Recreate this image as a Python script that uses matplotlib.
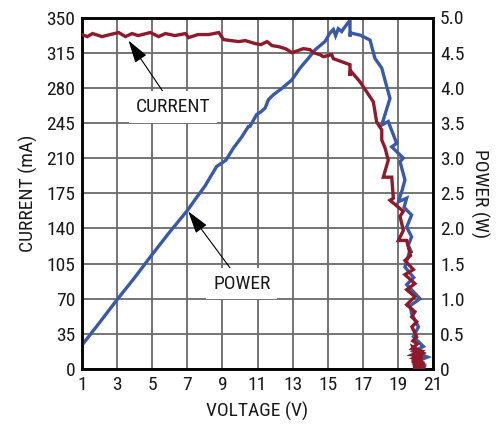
import matplotlib
matplotlib.use("Agg")
import matplotlib.pyplot as plt
from matplotlib import font_manager as fm

# ---------------- data ----------------
current_v = [1.0, 1.3, 1.6, 2.14, 2.6, 3.09, 3.47, 3.85, 4.2, 4.89, 5.37, 5.75, 6.3, 6.89,
             7.08, 7.6, 8.22, 8.79, 9.07, 9.5, 9.93, 10.3, 10.88, 11.2, 11.54, 11.83, 12.2,
             12.59, 12.97, 13.3, 13.61, 13.99, 14.18, 14.56, 14.75, 15.23, 15.32, 15.8,
             16.27, 16.27, 16.3, 16.84, 17.6, 17.79, 18.08, 18.08, 18.27, 18.45, 18.17,
             18.65, 18.74, 18.55, 19.31, 19.12, 19.31, 19.03, 19.5, 19.72, 19.4, 19.88,
             19.4, 19.97, 19.5, 19.97, 19.5, 19.97, 19.78, 20.07, 19.8, 20.07, 19.85, 20.1,
             19.8, 20.3, 19.8, 20.4, 19.8, 20.5, 19.85, 20.4, 19.9, 20.5, 19.9, 20.3,
             19.85, 20.45, 19.9, 20.4, 19.85, 20.5, 19.9, 20.4, 19.95, 20.5, 19.9, 20.3]
current_ma = [333, 331, 334, 331, 333, 335, 331, 334, 332, 335, 331, 334, 332, 334,
              330, 333, 333, 335, 328, 327, 326, 327, 324, 323, 326, 322, 321,
              319, 315, 317, 319, 318, 315, 313, 311, 313, 309, 306,
              303, 292, 297, 286, 266, 246, 238, 228, 220, 208, 191,
              191, 170, 168, 157, 152, 138, 128, 128, 113, 108, 99,
              94, 85, 79, 72, 64, 57, 52, 47, 42, 32, 28, 25,
              20, 18, 14, 12, 8, 6, 4, 3, 2, 1, 0.5, 0,
              22, 16, 11, 9, 6, 5, 3, 2, 1, 1, 0.5, 0]

power_v = [1.0, 2.0, 2.98, 4.0, 4.97, 6.0, 7.02, 7.5, 8.0, 8.67, 8.96, 9.2, 9.62, 10.1,
           10.48, 10.57, 10.95, 11.2, 11.43, 11.62, 11.9, 12.38, 12.95, 13.42, 13.9,
           14.28, 14.85, 15.13, 15.32, 15.45, 15.6, 15.8, 15.9, 16.27, 16.27, 16.3,
           16.84, 17.41, 17.69, 18.08, 18.36, 18.55, 18.08, 18.45, 18.93, 18.65, 19.31,
           19.12, 19.4, 19.25, 19.03, 19.5, 19.35, 19.78, 19.5, 19.78, 19.59, 19.78,
           19.69, 19.4, 19.9, 19.5, 20.26, 19.7, 19.78, 20.17, 19.88, 20.45, 19.9,
           20.69, 20.0, 20.6, 20.1, 20.5]
power_w = [0.34, 0.66, 0.98, 1.30, 1.62, 1.95, 2.26, 2.43, 2.6, 2.88, 2.93, 2.97, 3.14, 3.3,
           3.45, 3.45, 3.62, 3.66, 3.71, 3.83, 3.90, 3.99, 4.11, 4.28, 4.42,
           4.54, 4.66, 4.78, 4.83, 4.74, 4.84, 4.80, 4.84, 4.96, 4.73, 4.78,
           4.75, 4.68, 4.42, 4.28, 4.02, 3.85, 3.47, 3.52, 3.21, 3.16, 3.00,
           2.95, 2.69, 2.55, 2.38, 2.43, 2.30, 2.19, 2.02, 1.88, 1.76, 1.65,
           1.69, 1.45, 1.30, 1.20, 1.00, 0.90, 0.79, 0.60, 0.46, 0.32, 0.25,
           0.17, 0.10, 0.05, 0.02, 0.0]

x_ticks = [1, 3, 5, 7, 9, 11, 13, 15, 17, 19, 21]
current_ticks = [0, 35, 70, 105, 140, 175, 210, 245, 280, 315, 350]
power_ticks = [0, 0.5, 1.0, 1.5, 2.0, 2.5, 3.0, 3.5, 4.0, 4.5, 5.0]
power_labels = ["0", "0.5", "1.0", "1.5", "2.0", "2.5", "3.0", "3.5", "4.0", "4.5", "5.0"]

# ---------------- font ----------------
names = {f.name for f in fm.fontManager.ttflist}
family = "Liberation Sans"
for cand in ["Liberation Sans Narrow", "Roboto Condensed", "Arial Narrow", "Liberation Sans"]:
    if cand in names:
        family = cand
        break
plt.rcParams["font.family"] = [family, "DejaVu Sans"]

RED = "#8e1a2c"
BLUE = "#3a5aa8"
GRID = "#6a6a6a"
FS = 14

fig = plt.figure(figsize=(4.98, 4.25), dpi=100)
ax2 = fig.add_axes([82 / 498, 1 - 369 / 425, 351 / 498, 351.5 / 425])
ax = ax2.twinx()
# ax2 (power, right axis) at bottom with grid; ax (current) on top
ax.set_zorder(ax2.get_zorder() + 1)
ax.patch.set_visible(False)

ax2.set_xlim(1, 21)
ax2.set_ylim(0, 5)
ax.set_ylim(0, 350)

ax2.plot(power_v, power_w, color=BLUE, lw=2.4, solid_joinstyle="miter", zorder=3)
ax.plot(current_v, current_ma, color=RED, lw=2.4, solid_joinstyle="miter", zorder=3)

ax2.set_xticks(x_ticks)
ax2.set_yticks(power_ticks)
ax2.grid(True, color=GRID, lw=1.3, zorder=0)
ax2.set_axisbelow(True)

ax.yaxis.tick_left()
ax.yaxis.set_label_position("left")
ax2.yaxis.tick_right()
ax2.yaxis.set_label_position("right")

ax.set_yticks(current_ticks)
ax.set_yticklabels([str(t) for t in current_ticks], fontsize=FS)
ax2.set_yticklabels(power_labels, fontsize=FS)
ax2.set_xticklabels([str(t) for t in x_ticks], fontsize=FS)

for a in (ax, ax2):
    a.tick_params(length=0, pad=5, colors="#1a1a1a")
    for s in a.spines.values():
        s.set_linewidth(1.8)
        s.set_color("black")

ax.set_ylabel("CURRENT (mA)", fontsize=FS, labelpad=6, color="#1a1a1a")
ax2.set_ylabel("POWER (W)", fontsize=FS, rotation=-90, labelpad=18, color="#1a1a1a")
ax2.set_xlabel("VOLTAGE (V)", fontsize=FS, labelpad=6, color="#1a1a1a")

arrow = dict(arrowstyle="-|>,head_length=1.0,head_width=0.3", color="black", lw=0.8,
             shrinkA=0, shrinkB=0)
bbox = dict(boxstyle="square,pad=0.35", fc="white", ec="none")

ax.annotate("CURRENT", xy=(3.65, 327), xytext=(6.2, 261), fontsize=FS, ha="center",
            va="center", bbox=bbox, arrowprops=arrow, zorder=5, color="#1a1a1a")
ax.annotate("POWER", xy=(7.05, 157), xytext=(10.1, 85), fontsize=FS, ha="center",
            va="center", bbox=bbox, arrowprops=arrow, zorder=5, color="#1a1a1a")

fig.savefig("out.png", dpi=100)
